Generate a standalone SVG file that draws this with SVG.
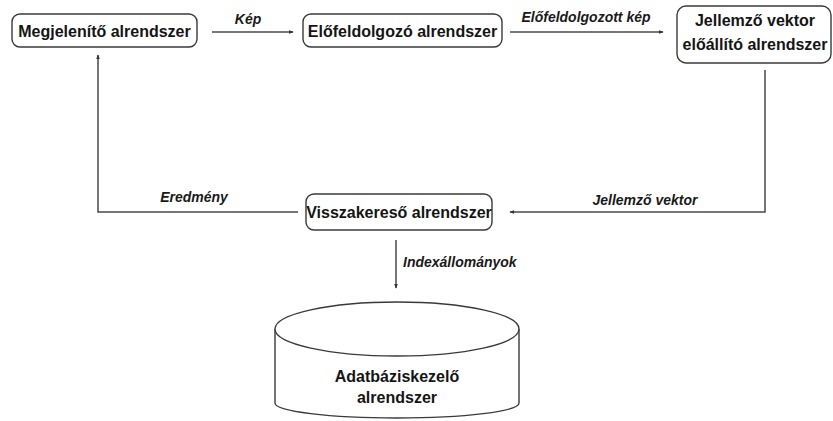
<svg xmlns="http://www.w3.org/2000/svg" width="833" height="421" viewBox="0 0 833 421">
<style>
.box{fill:#fff;stroke:#3a3a3a;stroke-width:1.4}
.t{font-family:"Liberation Sans",Arial,sans-serif;font-weight:bold;font-size:16px;fill:#151515;text-anchor:middle}
.l{font-family:"Liberation Sans",Arial,sans-serif;font-weight:bold;font-style:italic;font-size:14px;fill:#1a1a1a}
.c{fill:none;stroke:#4a4a4a;stroke-width:1.5}
</style>
<defs>
<marker id="ah" viewBox="0 0 8 8" refX="7" refY="4" markerWidth="5" markerHeight="5" orient="auto" markerUnits="userSpaceOnUse">
<path d="M0,1 L8,4 L0,7 Z" fill="#333"/>
</marker>
</defs>
<rect width="833" height="421" fill="#fff"/>
<g id="connectors">
<line class="c" x1="212" y1="32" x2="293" y2="32" marker-end="url(#ah)"/>
<text class="l" x="248" y="24" text-anchor="middle">Kép</text>
<line class="c" x1="510" y1="32" x2="663" y2="32" marker-end="url(#ah)"/>
<text class="l" x="586" y="22" text-anchor="middle">Előfeldolgozott kép</text>
<polyline class="c" points="765,70 765,212 510,212" marker-end="url(#ah)"/>
<text class="l" x="645" y="205" text-anchor="middle">Jellemző vektor</text>
<polyline class="c" points="298,212 98,212 98,55" marker-end="url(#ah)"/>
<text class="l" x="194" y="202" text-anchor="middle">Eredmény</text>
<line class="c" x1="396" y1="240" x2="396" y2="288" marker-end="url(#ah)"/>
<text class="l" x="403" y="267">Indexállományok</text>
</g>
<g id="megjelenito">
<rect class="box" x="12" y="14" width="185" height="33" rx="8"/>
<text class="t" x="104.5" y="37">Megjelenítő alrendszer</text>
</g>
<g id="elofeldolgozo">
<rect class="box" x="303" y="14" width="199" height="33" rx="8"/>
<text class="t" x="402.5" y="37">Előfeldolgozó alrendszer</text>
</g>
<g id="jellemzo">
<rect class="box" x="677" y="6" width="154" height="57" rx="9"/>
<text class="t" x="755" y="26">Jellemző vektor</text>
<text class="t" x="755" y="50">előállító alrendszer</text>
</g>
<g id="visszakereso">
<rect class="box" x="306" y="194" width="186" height="36" rx="8"/>
<text class="t" x="399" y="218">Visszakereső alrendszer</text>
</g>
<g id="adatbazis">
<path class="box" d="M275,329 L275,403 A122,15 0 0 0 519,403 L519,329"/>
<ellipse class="box" cx="397" cy="329" rx="122" ry="27"/>
<text class="t" x="397" y="382">Adatbáziskezelő</text>
<text class="t" x="397" y="403">alrendszer</text>
</g>
</svg>
